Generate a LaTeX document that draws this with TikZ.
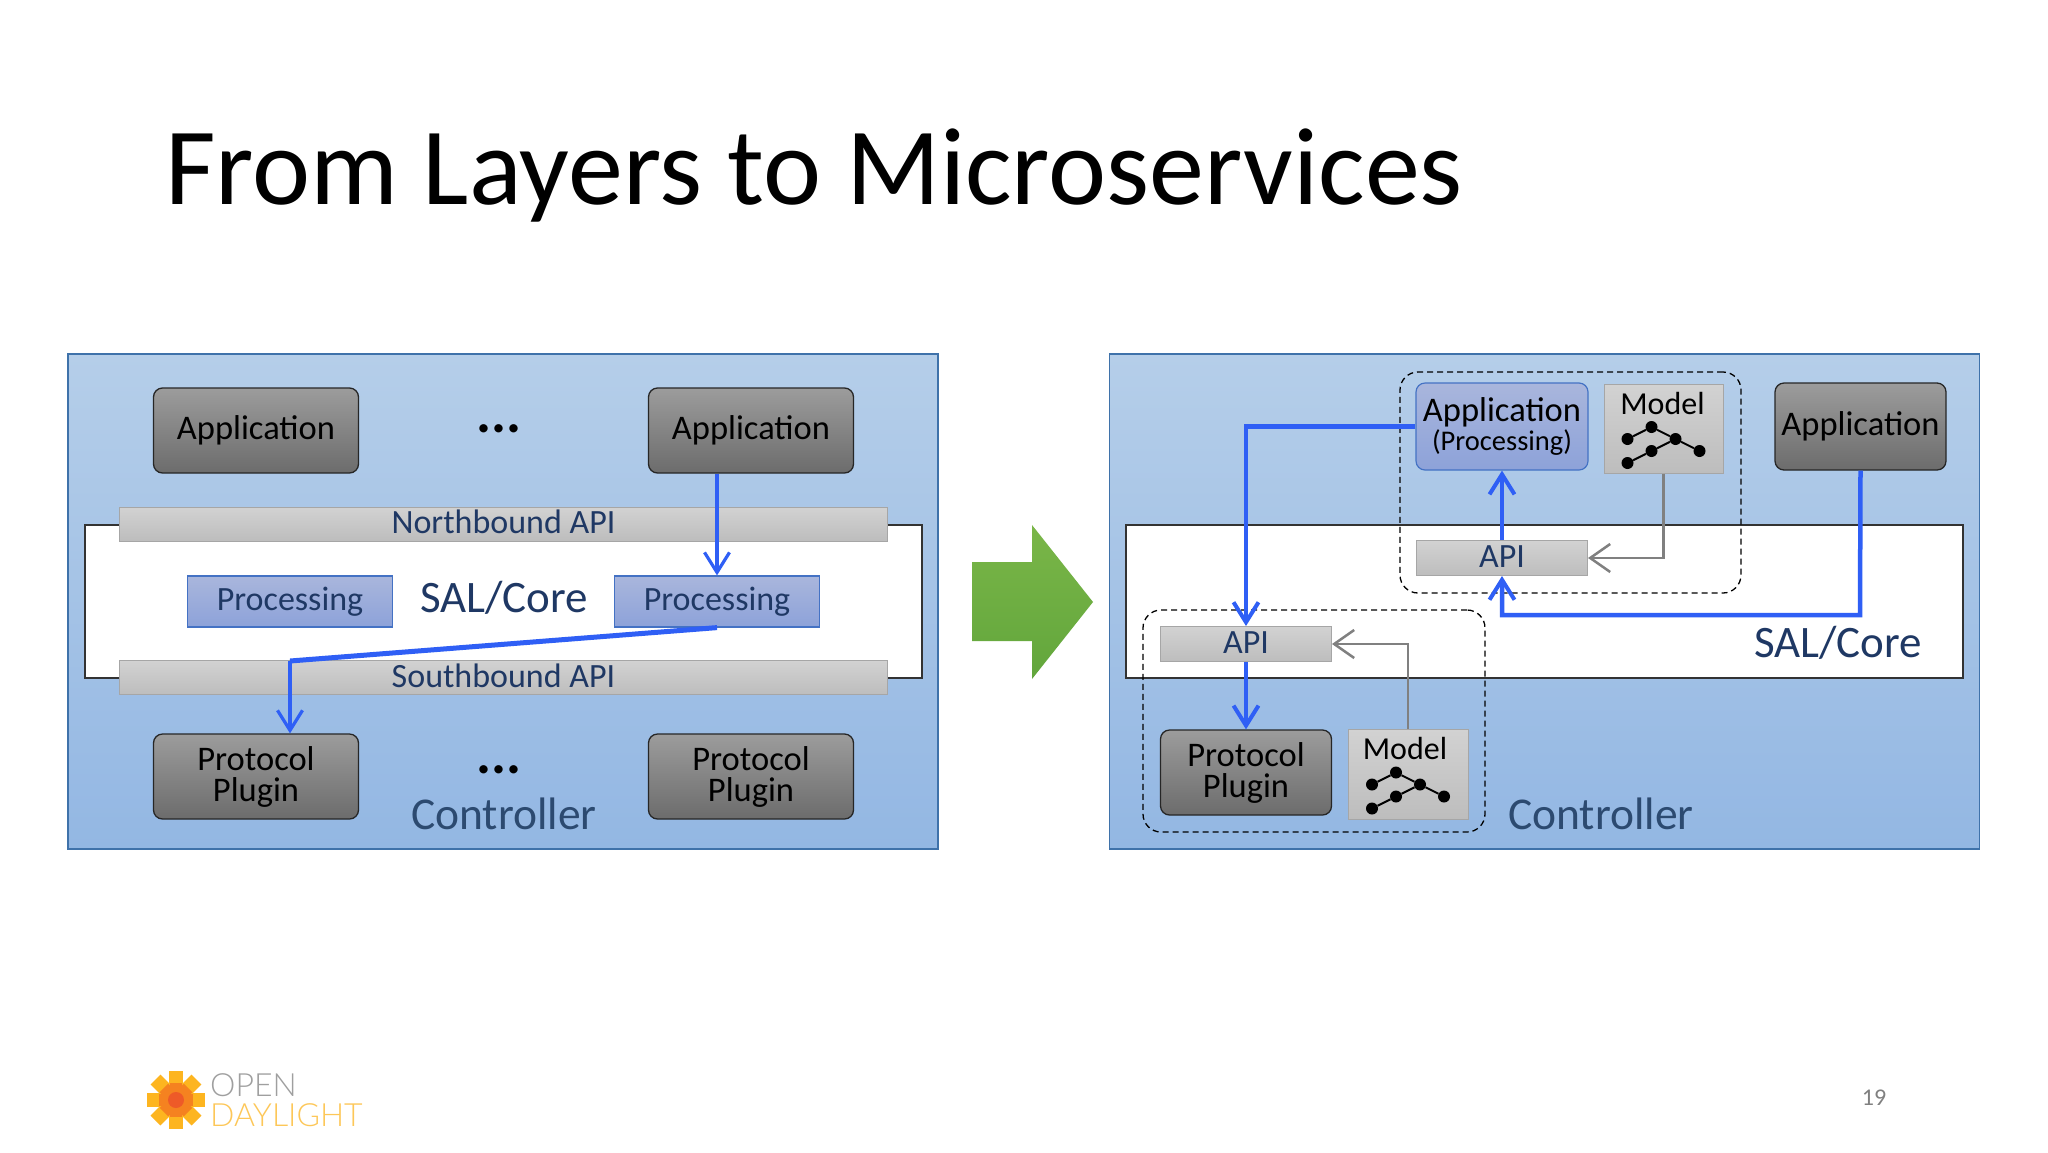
\documentclass[tikz,border=0pt]{standalone}
\usepackage{fontspec}
\setmainfont{Carlito}
\newfontfamily\logofont{Lato Light}
\usetikzlibrary{arrows.meta}
\definecolor{navy}{HTML}{1F3864}
\definecolor{ctrlNavy}{HTML}{2C4A70}
\definecolor{flowblue}{HTML}{2F5FF5}
\definecolor{connGray}{HTML}{808080}
\definecolor{panelEdge}{HTML}{3F72AA}
\definecolor{panelTop}{HTML}{B5CEE9}
\definecolor{panelBot}{HTML}{93B7E3}
\definecolor{darkTop}{HTML}{9C9C9C}
\definecolor{darkBot}{HTML}{6C6C6C}
\definecolor{barTop}{HTML}{D2D2D2}
\definecolor{barBot}{HTML}{BDBDBD}
\definecolor{procTop}{HTML}{A9B6DC}
\definecolor{procBot}{HTML}{8DA2D9}
\definecolor{procEdge}{HTML}{4472C4}
\definecolor{logoYellow}{HTML}{FDB520}
\definecolor{logoOrange}{HTML}{F58220}
\definecolor{logoRed}{HTML}{EE5A28}
\definecolor{greenTop}{HTML}{7AB648}
\definecolor{greenBot}{HTML}{62A63C}
\tikzset{
  x=1pt,y=-1pt,
  panel/.style={draw=panelEdge,line width=1.3pt,top color=panelTop,bottom color=panelBot,inner sep=0pt,minimum width=870pt,minimum height=495pt},
  corebox/.style={draw=black!80,line width=1.5pt,fill=white,inner sep=0pt,minimum width=837pt,minimum height=153pt},
  darkbox/.style={draw=black!85,line width=1.3pt,rounded corners=9pt,top color=darkTop,bottom color=darkBot,inner sep=0pt,align=center,font=\fontsize{34.5}{31}\selectfont},
  barbox/.style={draw=gray!70,line width=1pt,top color=barTop,bottom color=barBot,inner sep=0pt,text=navy,text height=24pt,text depth=5pt,font=\fontsize{34}{34}\selectfont},
  procbox/.style={draw=procEdge,line width=1.2pt,top color=procTop,bottom color=procBot,inner sep=0pt,text=navy,font=\fontsize{34}{34}\selectfont},
  dashbox/.style={draw=black,line width=1.3pt,dash pattern=on 6pt off 4pt,rounded corners=18pt,inner sep=0pt},
  bigtext/.style={text=navy,inner sep=0pt,font=\fontsize{45}{45}\selectfont},
  ctrltext/.style={text=ctrlNavy,inner sep=0pt,font=\fontsize{45.5}{45.5}\selectfont},
  ellipsisText/.style={inner sep=0pt,font=\fontsize{56}{56}\selectfont\bfseries},
  modelbox/.style={draw=gray!70,line width=1pt,top color=barTop,bottom color=barBot,inner sep=0pt},
  modeltext/.style={inner sep=0pt,font=\fontsize{32}{32}\selectfont},
  treedot/.style={circle,fill=black,inner sep=0pt,minimum size=12pt},
  flowtip/.style={-{Straight Barb[length=20pt,width=25pt,line width=#1]}},
  flowthin/.style={draw=flowblue,line width=3.2pt,flowtip=3.2pt},
  flow/.style={draw=flowblue,line width=4.5pt,flowtip=4pt},
  modelflow/.style={draw=connGray,line width=2.5pt,-{Straight Barb[length=20pt,width=28pt,line width=2.5pt]}},
  pics/modeltree/.style={code={
    \node[treedot] (-a) at (-36,10.5) {};
    \node[treedot] (-b) at (-12,-1.5) {};
    \node[treedot] (-c) at (12,10.5) {};
    \node[treedot] (-d) at (36,22.5) {};
    \node[treedot] (-e) at (-12,22.5) {};
    \node[treedot] (-f) at (-36,34.5) {};
    \draw[black,line width=2pt] (-a)--(-b)--(-c)--(-d) (-c)--(-e)--(-f);
  }},
}
\begin{document}
\begin{tikzpicture}
\useasboundingbox[fill=white] (0,0) rectangle (2048,1152);
% title
\node[anchor=base west,inner sep=0pt,font=\fontsize{110}{110}\selectfont] (title) at (165,204) {From Layers to Microservices};
% left panel
\node[panel] (panelL) at (503,601.5) {};
\node[corebox] (coreL) at (503.5,601.5) {};
\node[barbox,minimum width=768pt,minimum height=34pt] (north) at (503.5,524) {Northbound API};
\node[barbox,minimum width=768pt,minimum height=34pt] (south) at (503.5,677.5) {Southbound API};
\node[darkbox,minimum width=205pt,minimum height=85pt] (appA) at (256,430.5) {Application};
\node[darkbox,minimum width=205pt,minimum height=85pt] (appB) at (751,430.5) {Application};
\node[darkbox,minimum width=205pt,minimum height=85pt] (plugA) at (256,776.5) {Protocol\\Plugin};
\node[darkbox,minimum width=205pt,minimum height=85pt] (plugB) at (751,776.5) {Protocol\\Plugin};
\node[procbox,minimum width=205pt,minimum height=51pt] (procA) at (290,601.5) {Processing};
\node[procbox,minimum width=205pt,minimum height=51pt] (procB) at (717,601.5) {Processing};
\node[ellipsisText] (dotsA) at (499,429) {...};
\node[ellipsisText] (dotsB) at (499,770) {...};
\node[bigtext] (salL) at (504,598) {SAL/Core};
\node[ctrltext] (ctrlL) at (504,814) {Controller};
\coordinate (bendL) at (290,661);
\draw[flowthin] (procB.north |- appB.south) -- (procB.north);
\draw[flowblue,line width=5pt] (procB.south) -- (bendL);
\draw[flowthin] (bendL) -- (bendL |- plugA.north);
% green arrow
\shade[top color=greenTop,bottom color=greenBot] (972,562) -- (1032,562) -- (1032,525) -- (1093,602) -- (1032,679) -- (1032,641) -- (972,641) -- cycle;
% right panel
\node[panel] (panelR) at (1544.5,601.5) {};
\node[corebox] (coreR) at (1544.5,601.5) {};
\node[dashbox,minimum width=341pt,minimum height=221pt] (groupA) at (1570.5,482.5) {};
\node[dashbox,minimum width=342pt,minimum height=222pt] (groupB) at (1314,721) {};
\node[procbox,rounded corners=9pt,align=center,minimum width=172pt,minimum height=87pt,text=black,font=\fontsize{34.5}{29}\selectfont] (appProc) at (1502,426.5) {Application\\{\fontsize{28.5}{29}\selectfont (Processing)}};
\node[modelbox,minimum width=119pt,minimum height=89pt] (modelA) at (1663.5,428.5) {};
\node[modeltext] (modelAt) at ([xshift=-1pt,yshift=-20pt]modelA.north) {Model};
\pic (treeA) at (modelA.center) {modeltree};
\node[darkbox,minimum width=171pt,minimum height=87pt] (appC) at (1860.5,426.5) {Application};
\node[barbox,minimum width=171pt,minimum height=35pt] (apiA) at (1502,558) {API};
\node[barbox,minimum width=171pt,minimum height=35pt] (apiB) at (1246,644) {API};
\node[darkbox,minimum width=171pt,minimum height=85pt] (plugC) at (1246,772.5) {Protocol\\Plugin};
\node[modelbox,minimum width=120pt,minimum height=90pt] (modelB) at (1408,774) {};
\node[modeltext] (modelBt) at ([xshift=-3pt,yshift=-20pt]modelB.north) {Model};
\pic (treeB) at (modelB.center) {modeltree};
\node[bigtext] (salR) at (1838,643) {SAL/Core};
\node[ctrltext] (ctrlR) at (1601,814) {Controller};
\coordinate (turnB) at (1860,615);
\draw[flow] (appProc.west) -- (appProc.west -| apiB.north) -- (apiB.north);
\draw[flow] (apiB.south) -- (plugC.north);
\draw[flow] (apiA.north) -- (appProc.south);
\draw[flow] (appC.south) -- (turnB) -- (turnB -| apiA.south) -- (apiA.south);
\draw[modelflow] (modelA.south) |- (apiA.east);
\draw[modelflow] (modelB.north) |- (apiB.east);
% logo
\begin{scope}[shift={(176,1100)}]
  \foreach \a in {0,45,90,135}
    \fill[logoYellow,rotate=\a] (-29,-7) rectangle (29,7);
  \foreach \a in {0,45,90,135}
    \fill[logoOrange,rotate=\a] (-17,-6) rectangle (17,6);
  \fill[logoRed] (0,0) circle (8);
\end{scope}
\node[anchor=base west,inner sep=0pt,text=gray!75,font=\logofont\fontsize{32}{32}\selectfont] (logoA) at (210,1096) {OPEN};
\node[anchor=base west,inner sep=0pt,text=logoYellow!75,font=\logofont\fontsize{32}{32}\selectfont] (logoB) at (210,1126) {DAYLIGHT};
\node[inner sep=0pt,text=gray,font=\fontsize{24}{24}\selectfont] (pageNo) at (1874,1098) {19};
\end{tikzpicture}
\end{document}
